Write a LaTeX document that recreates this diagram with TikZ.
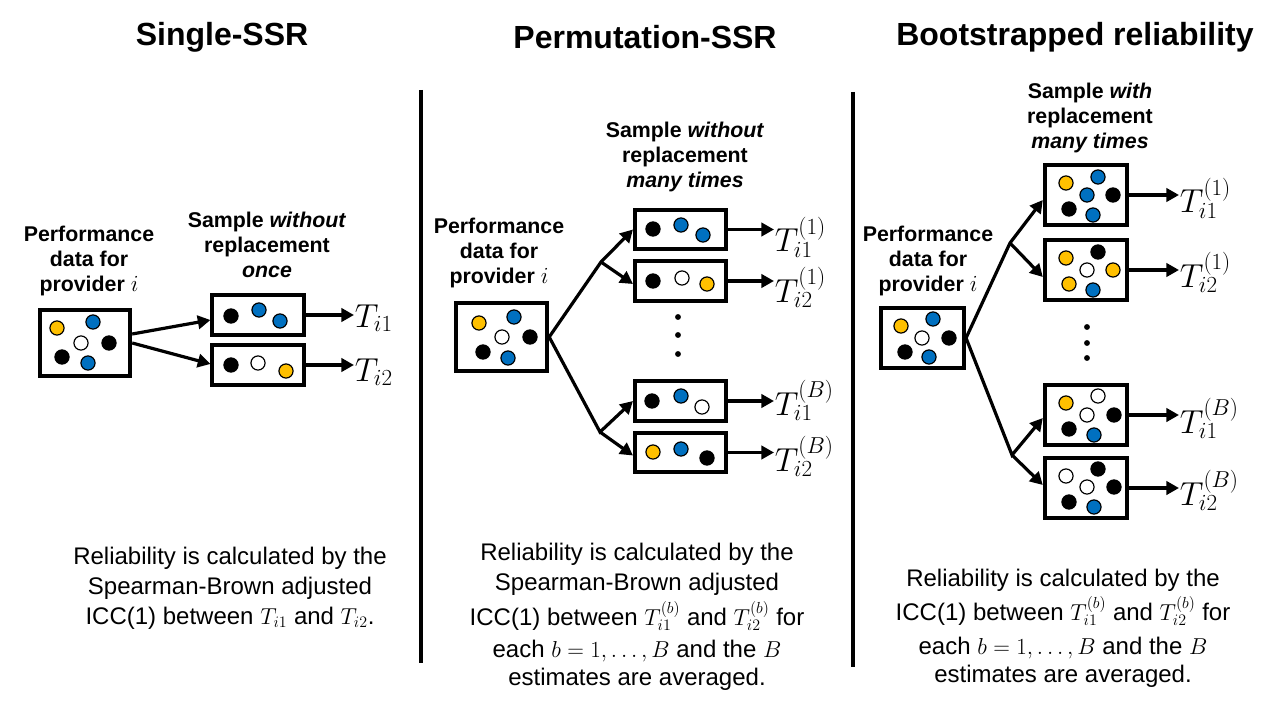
\documentclass[tikz,border=0pt]{standalone}
\usepackage{fontspec}
\setmainfont{Liberation Sans}
\usetikzlibrary{arrows.meta,calc}
\definecolor{dyel}{HTML}{FFC000}
\definecolor{dblu}{HTML}{0070C0}
\tikzset{
 bx/.style={draw,line width=2.8pt,inner sep=0pt},
 arr/.style={line width=2.4pt,-{Triangle[length=9.5pt,width=10pt]}},
 ln/.style={line width=2.4pt},
 ttl/.style={font=\bfseries\fontsize{24}{28}\selectfont},
 lbl/.style={align=center,font=\bfseries\fontsize{16}{18.5}\selectfont},
 body/.style={align=center,font=\fontsize{18}{22.5}\selectfont},
 tl/.style={anchor=base west,inner sep=0.5pt,font=\fontsize{23}{27}\selectfont},
 yl/.style={draw,line width=0.9pt,fill=dyel},
 bl/.style={draw,line width=0.9pt,fill=dblu},
 wh/.style={draw,line width=0.9pt,fill=white},
 bk/.style={draw,line width=0.9pt,fill=black},
 pbig/.style={bx,minimum width=68pt,minimum height=50pt},
 psm/.style={bx,minimum width=68.5pt,minimum height=29.5pt},
 qbig/.style={bx,minimum width=62.5pt,minimum height=45.5pt},
 qsm/.style={bx,minimum width=62pt,minimum height=45.5pt},
}
\newcommand\dd[2]{\path[#1] (#2) circle[radius=5.3pt];}
\newcommand\ed[1]{\fill (#1) circle[radius=2.2pt];}
\begin{document}
\begin{tikzpicture}[x=0.75pt,y=-0.75pt]
\useasboundingbox (0,0) rectangle (1280,720);
% dividers
\draw[ln] (421,90) -- (421,663);
\draw[ln] (853,92) -- (853,667);

% ---------- Panel 1 ----------
\node[ttl] (t1) at (222,37) {Single-SSR};
\node[lbl] (l1) at (89,261) {Performance\\data for\\provider $i$};
\node[lbl] (m1) at (267,245) {Sample \textit{without}\\replacement\\\textit{once}};
\node[pbig] (A) at (85,343) {};
\node[psm] (A1) at (258,315) {};
\node[psm] (A2) at (258,365) {};
\dd{yl}{57,328}\dd{bl}{93,322}\dd{wh}{81,343}\dd{bk}{109,343}\dd{bk}{62,357}\dd{bl}{88,363}
\dd{bk}{231,316}\dd{bl}{259,310}\dd{bl}{280,321}
\dd{bk}{231,365}\dd{wh}{258,363}\dd{yl}{286,371}
\draw[arr] ($(A.east)+(0,-9)$) -- ($(A1.west)+(0,5)$);
\draw[arr] (A.east) -- ($(A2.west)+(0,-1)$);
\node[tl] (TA1) at (354,327) {$T_{i1}$};
\node[tl] (TA2) at (354,381) {$T_{i2}$};
\draw[arr] (A1.east) -- (A1.east -| TA1.west);
\draw[arr] (A2.east) -- (A2.east -| TA2.west);
\node[body] (r1) at (230,588) {Reliability is calculated by the\\Spearman-Brown adjusted\\ICC(1) between $T_{i1}$ and $T_{i2}$.};

% ---------- Panel 2 ----------
\node[ttl] (t2) at (645,37) {Permutation-SSR};
\node[lbl] (l2) at (499,253) {Performance\\data for\\provider $i$};
\node[lbl] (m2) at (685,157) {Sample \textit{without}\\replacement\\\textit{many times}};
\node[pbig,minimum width=68.75pt,minimum height=51.5pt] (B) at (501.5,337) {};
\node[psm] (B1) at (680.5,229.5) {};
\node[psm] (B2) at (680.5,281) {};
\node[psm] (B3) at (680.5,401) {};
\node[psm] (B4) at (680.5,452.5) {};
\dd{yl}{479,323}\dd{bl}{514,317}\dd{wh}{502,337}\dd{bk}{530,337}\dd{bk}{483,352}\dd{bl}{508,358}
\dd{bk}{653,229}\dd{bl}{681,225}\dd{bl}{703,235}
\dd{bk}{653,281}\dd{wh}{682,278}\dd{yl}{707,284}
\dd{bk}{652,401}\dd{bl}{681,396}\dd{wh}{702,407}
\dd{yl}{653,452}\dd{bl}{681,449}\dd{bk}{707,458}
\ed{678,317}\ed{678,335}\ed{678,354}
\coordinate (c21) at (601,262);
\coordinate (c22) at (600,432);
\draw[arr] (B.east) -- (c21) -- (B1.west);
\draw[arr] (c21) -- ($(B2.west)+(0,3)$);
\draw[arr] (B.east) -- (c22) -- (B3.west);
\draw[arr] (c22) -- ($(B4.west)+(0,3)$);
\node[tl] (TB1) at (774,252) {$T_{i1}^{(1)}$};
\node[tl] (TB2) at (774,302) {$T_{i2}^{(1)}$};
\node[tl] (TB3) at (774,415) {$T_{i1}^{(B)}$};
\node[tl] (TB4) at (774,471) {$T_{i2}^{(B)}$};
\draw[arr] (B1.east) -- (B1.east -| TB1.west);
\draw[arr] (B2.east) -- (B2.east -| TB2.west);
\draw[arr] (B3.east) -- (B3.east -| TB3.west);
\draw[arr] (B4.east) -- (B4.east -| TB4.west);
\node[body] (r2) at (637,617) {Reliability is calculated by the\\Spearman-Brown adjusted\\[3.75pt]ICC(1) between $T_{i1}^{(b)}$ and $T_{i2}^{(b)}$ for\\[1.5pt]each $b=1,\ldots,B$ and the $B$\\[-1.5pt]estimates are averaged.};

% ---------- Panel 3 ----------
\node[ttl] (t3) at (1075,37) {Bootstrapped reliability};
\node[lbl] (l3) at (928,261) {Performance\\data for\\provider $i$};
\node[lbl] (m3) at (1090,118) {Sample \textit{with}\\replacement\\\textit{many times}};
\node[qbig] (C) at (922.5,338) {};
\node[qsm] (C1) at (1086,195) {};
\node[qsm] (C2) at (1086,270) {};
\node[qsm] (C3) at (1086,415) {};
\node[qsm] (C4) at (1086,488) {};
\dd{yl}{901,326}\dd{bl}{933,319}\dd{wh}{922,338}\dd{bk}{949,338}\dd{bk}{905,352}\dd{bl}{929,357}
\dd{yl}{1066,183}\dd{bl}{1098,177}\dd{bl}{1087,195}\dd{bk}{1113,195}\dd{bk}{1069,209}\dd{bl}{1093,215}
\dd{yl}{1066,258}\dd{bk}{1098,252}\dd{wh}{1087,270}\dd{yl}{1113,270}\dd{yl}{1069,284}\dd{bl}{1093,290}
\dd{yl}{1066,403}\dd{wh}{1098,396}\dd{wh}{1087,415}\dd{bk}{1114,415}\dd{bk}{1069,429}\dd{bl}{1094,435}
\dd{wh}{1066,476}\dd{bk}{1098,469}\dd{wh}{1087,487}\dd{bk}{1114,487}\dd{bk}{1069,502}\dd{bl}{1094,507}
\ed{1087,327}\ed{1087,343}\ed{1087,358}
\coordinate (c31) at (1010,243);
\coordinate (c32) at (1012,455);
\draw[arr] (C.east) -- (c31) -- ($(C1.west)+(0,5)$);
\draw[arr] (c31) -- ($(C2.west)+(0,7)$);
\draw[arr] (C.east) -- (c32) -- ($(C3.west)+(0,3)$);
\draw[arr] (c32) -- ($(C4.west)+(0,-3)$);
\node[tl] (TC1) at (1179,213) {$T_{i1}^{(1)}$};
\node[tl] (TC2) at (1179,287) {$T_{i2}^{(1)}$};
\node[tl] (TC3) at (1179,433) {$T_{i1}^{(B)}$};
\node[tl] (TC4) at (1179,505) {$T_{i2}^{(B)}$};
\draw[arr] (C1.east) -- (C1.east -| TC1.west);
\draw[arr] (C2.east) -- (C2.east -| TC2.west);
\draw[arr] (C3.east) -- (C3.east -| TC3.west);
\draw[arr] (C4.east) -- (C4.east -| TC4.west);
\node[body] (r3) at (1063,628.5) {Reliability is calculated by the\\[3pt]ICC(1) between $T_{i1}^{(b)}$ and $T_{i2}^{(b)}$ for\\[3pt]each $b=1,\ldots,B$ and the $B$\\[-1.5pt]estimates are averaged.};
\end{tikzpicture}
\end{document}
